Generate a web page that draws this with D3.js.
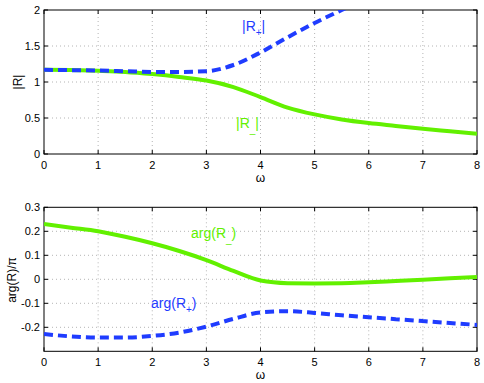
<!DOCTYPE html>
<html>
<head>
<meta charset="utf-8">
<script src="https://cdn.jsdelivr.net/npm/d3@7"></script>
<style>
  body { margin: 0; background: #fff; }
  svg { font-family: "Liberation Sans", Arial, sans-serif; }
</style>
</head>
<body>
<div id="chart-area"></div>
<script>
// omega samples and curves
const omega = [0, 0.5, 1, 1.5, 2, 2.5, 3, 3.5, 4, 4.5, 5, 5.5, 6, 6.5, 7, 7.5, 8]
const absRminus = [1.17, 1.165, 1.155, 1.14, 1.11, 1.07, 1.02, 0.93, 0.79, 0.645, 0.55, 0.48, 0.43, 0.39, 0.35, 0.315, 0.28]
const omegaPlus = [0, 0.5, 1, 1.5, 2, 2.5, 3, 3.5, 4, 4.5, 5, 5.5, 5.75]
const absRplus = [1.17, 1.165, 1.16, 1.15, 1.14, 1.14, 1.15, 1.236, 1.41, 1.62, 1.82, 2.0, 2.09]
const argRminus = [0.23, 0.215, 0.2, 0.177, 0.15, 0.118, 0.08, 0.035, -0.005, -0.016, -0.017, -0.016, -0.012, -0.007, -0.002, 0.004, 0.01]
const argRplus = [-0.228, -0.238, -0.243, -0.243, -0.236, -0.222, -0.197, -0.165, -0.138, -0.133, -0.14, -0.15, -0.158, -0.166, -0.174, -0.182, -0.19]

const xTicks = [0, 1, 2, 3, 4, 5, 6, 7, 8]
const topTicks = [0, 0.5, 1, 1.5, 2]
const bottomTicks = [-0.2, -0.1, 0, 0.1, 0.2, 0.3]

const GREEN = "#62f000"
const BLUE = "#1f3cff"

const svg = d3.select("#chart-area").append("svg")
  .attr("width", 484)
  .attr("height", 383)

const x = d3.scaleLinear().domain([0, 8]).range([44, 477])
const yTop = d3.scaleLinear().domain([0, 2]).range([154, 10])
const yBot = d3.scaleLinear().domain([-0.3, 0.3]).range([351.3, 207.3])

function panel(y, yTicks, yFmt, id) {
  const g = svg.append("g")
  const [y0, y1] = y.range()

  g.append("clipPath").attr("id", id)
    .append("rect").attr("x", x(0)).attr("y", y1).attr("width", x(8) - x(0)).attr("height", y0 - y1)

  // dotted grid
  g.selectAll(".gx").data(xTicks.slice(1, -1)).enter().append("line")
    .attr("x1", d => x(d)).attr("x2", d => x(d)).attr("y1", y0).attr("y2", y1)
    .attr("stroke", "#b4b4b4").attr("stroke-dasharray", "1,3")
  g.selectAll(".gy").data(yTicks.filter(d => y(d) < y0 - 1 && y(d) > y1 + 1)).enter().append("line")
    .attr("x1", x(0)).attr("x2", x(8)).attr("y1", d => y(d)).attr("y2", d => y(d))
    .attr("stroke", "#b4b4b4").attr("stroke-dasharray", "1,3")

  // inward ticks on all four sides
  xTicks.forEach(t => {
    g.append("line").attr("x1", x(t)).attr("x2", x(t)).attr("y1", y0).attr("y2", y0 - 4).attr("stroke", "#000")
    g.append("line").attr("x1", x(t)).attr("x2", x(t)).attr("y1", y1).attr("y2", y1 + 4).attr("stroke", "#000")
    g.append("text").attr("x", x(t)).attr("y", y0 + 15).attr("text-anchor", "middle")
      .attr("font-size", 11).text(t)
  })
  yTicks.forEach(t => {
    g.append("line").attr("x1", x(0)).attr("x2", x(0) + 4).attr("y1", y(t)).attr("y2", y(t)).attr("stroke", "#000")
    g.append("line").attr("x1", x(8)).attr("x2", x(8) - 4).attr("y1", y(t)).attr("y2", y(t)).attr("stroke", "#000")
    g.append("text").attr("x", x(0) - 4).attr("y", y(t) + 4).attr("text-anchor", "end")
      .attr("font-size", 11).text(yFmt(t))
  })

  g.append("rect").attr("x", x(0)).attr("y", y1).attr("width", x(8) - x(0)).attr("height", y0 - y1)
    .attr("fill", "none").attr("stroke", "#000").attr("stroke-width", 1)

  g.append("text").attr("x", x(4)).attr("y", y0 + 28).attr("text-anchor", "middle")
    .attr("font-size", 12).text("ω")
  return g
}

function curve(g, xs, ys, y, color, dashed, id) {
  const line = d3.line().x(d => x(d[0])).y(d => y(d[1])).curve(d3.curveMonotoneX)
  g.append("path").datum(d3.zip(xs, ys))
    .attr("d", line)
    .attr("fill", "none").attr("stroke", color).attr("stroke-width", 4)
    .attr("stroke-dasharray", dashed ? "9,5" : null)
    .attr("clip-path", `url(#${id})`)
}

const gTop = panel(yTop, topTicks, d => d, "clipTop")
curve(gTop, omega, absRminus, yTop, GREEN, false, "clipTop")
curve(gTop, omegaPlus, absRplus, yTop, BLUE, true, "clipTop")

const gBot = panel(yBot, bottomTicks, d => d === 0 ? "0" : d3.format(".1f")(d).replace("\u2212", "-"), "clipBot")
curve(gBot, omega, argRminus, yBot, GREEN, false, "clipBot")
curve(gBot, omega, argRplus, yBot, BLUE, true, "clipBot")

// y-axis labels
svg.append("text").attr("transform", "translate(22,82) rotate(-90)").attr("text-anchor", "middle")
  .attr("font-size", 12).text("|R|")
svg.append("text").attr("transform", "translate(16,280) rotate(-90)").attr("text-anchor", "middle")
  .attr("font-size", 12).text("arg(R)/π")

// curve labels with subscripts
function label(tx, ty, main, sub, tail, color) {
  const t = svg.append("text").attr("x", tx).attr("y", ty).attr("font-size", 14).attr("fill", color)
  t.append("tspan").text(main)
  t.append("tspan").attr("dy", 5).attr("font-size", 10).text(sub)
  t.append("tspan").attr("dy", -5).text(tail)
}
label(242, 31, "|R", "+", "|", BLUE)
label(236, 128, "|R", "_", "|", GREEN)
label(191, 238, "arg(R", "_", ")", GREEN)
label(151, 308, "arg(R", "+", ")", BLUE)
</script>
</body>
</html>
